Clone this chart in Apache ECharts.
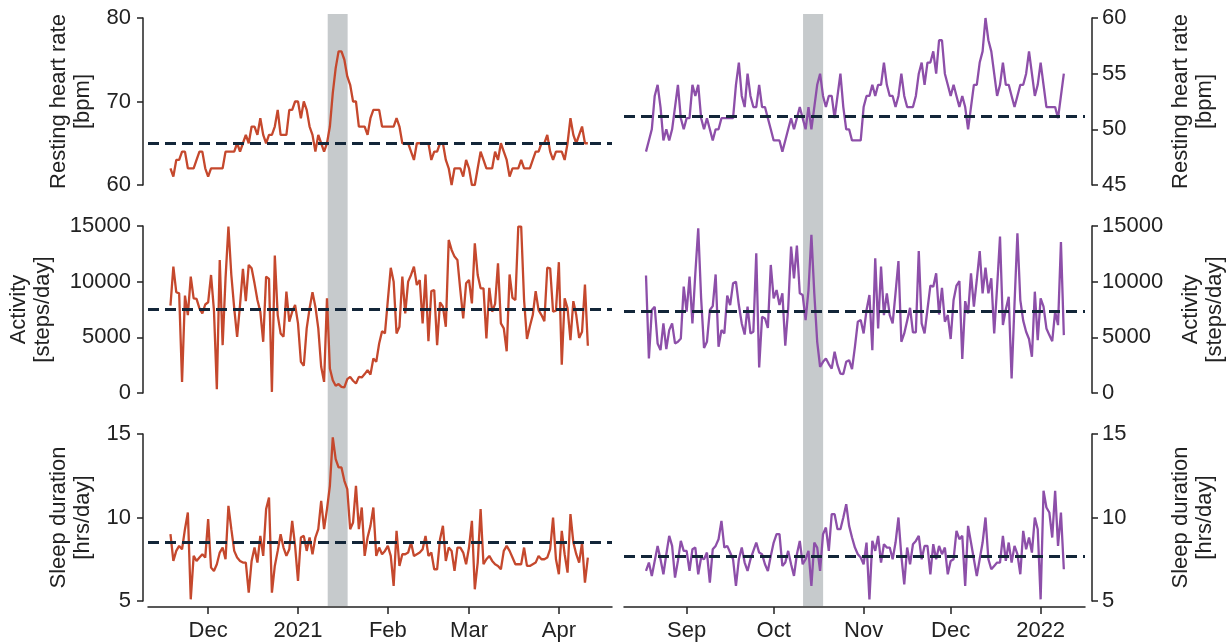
<!DOCTYPE html>
<html><head><meta charset="utf-8">
<script src="https://cdn.jsdelivr.net/npm/echarts@6/dist/echarts.min.js"></script>
<style>html,body{margin:0;padding:0;background:#fff}#c{width:1230px;height:643px}</style>
</head><body><div id="c"></div>
<script>
// ---------- DATA ----------
const leftStart = '2020-11-18';
const rightStart = '2021-08-18';
const leftRange = ['2020-11-10 06:00', '2021-04-19 08:00'];
const rightRange = ['2021-08-10 10:00', '2022-01-16 07:00'];
const leftBand = ['2021-01-11 06:00', '2021-01-18 03:00'];
const rightBand = ['2021-10-11 03:00', '2021-10-18 01:00'];
const leftTickDates = ['2020-12-01', '2021-01-01', '2021-02-01', '2021-03-01', '2021-04-01'];
const leftTickLabels = ['Dec', '2021', 'Feb', 'Mar', 'Apr'];
const rightTickDates = ['2021-09-01', '2021-10-01', '2021-11-01', '2021-12-01', '2022-01-01'];
const rightTickLabels = ['Sep', 'Oct', 'Nov', 'Dec', '2022'];
const metricNames = ['Resting heart rate\n[bpm]', 'Activity\n[steps/day]', 'Sleep duration\n[hrs/day]'];
const leftBaselines = [65, 7500, 8.5];
const rightBaselines = [51.15, 7300, 7.65];

const leftHR = [62,61,63,63,64,64,62,62,62,63, 64,64,62,61,62,62,62,62,62,64,
  64,64,64,65,64,65,66,65,67,67, 66,68,66,65,66,66,67,69,66,66,
  66,69,69,70,70,68,70,69,67,66, 64,66,65,64,65,67,71,74,76,76,
  75,73,72,70,70,67,67,67,66,68, 69,69,69,67,67,67,67,67,68,67,
  65,65,65,64,63,65,65,65,65,65, 63,64,64,65,65,63,62,60,62,62,
  62,61,63,62,60,60,62,64,63,62, 62,62,64,63,65,64,63,61,62,62,
  62,63,62,62,62,63,64,64,65,65, 66,64,63,64,64,64,63,65,68,66,
  65,66,67,65,65];
const rightHR = [48,49,50,53,54,52,49,50,49,50, 52,54,51,50,51,51,54,53,54,51,
  50,51,50,49,50,50,51,51,51,51, 51,54,56,53,52,55,53,52,52,54,
  52,52,51,50,49,49,49,48,49,50, 51,50,51,52,51,50,52,50,52,54,
  55,53,52,53,53,51,53,55,52,50, 50,49,49,49,49,52,53,53,54,53,
  54,54,56,54,53,53,52,53,55,53, 52,52,52,53,55,56,54,56,56,57,
  55,58,58,55,54,53,54,53,52,53, 52,50,52,54,54,56,57,60,58,57,
  55,53,54,56,54,54,53,52,53,54, 54,55,57,55,53,54,56,54,52,52,
  52,52,51,53,55];
const leftSteps = [7850,11350,9050,8950,1000,8750,7000,10450,8500,8450,
  7600,7150,7950,8150,10600,7450,350,11950,4300,10300,
  14950,10600,7600,5050,7900,11150,8250,11500,11200,9850,
  8350,7300,4600,10450,10250,100,12350,7000,5350,5050,
  9100,6400,7300,7900,6250,2800,2450,5800,7600,9050,
  7750,5800,2350,1000,8500,2200,1150,650,800,550,
  500,1250,1450,1100,850,1450,1400,1700,2050,1650,
  3100,2800,4450,5550,5350,8350,11250,10000,5350,5950,
  10450,7150,10000,10600,11350,9700,10150,6250,10650,4650,
  9150,9250,4300,8150,7750,5950,13750,12850,12250,11950,
  9250,6700,9850,10150,8050,13450,10600,9400,9400,4900,
  9450,7300,8000,11650,6250,5800,3750,10650,8550,8350,
  14950,14950,8350,4850,6000,7000,9150,7450,7000,6450,
  11250,11200,7300,7400,11750,2550,8500,7600,4750,8250,
  7000,4950,5500,9750,4250];
const rightSteps = [10550,3100,7450,7750,4450,3850,6250,3950,5650,6250,
  4450,4600,4900,9550,7300,10450,6250,10750,14800,8500,
  4050,4600,7450,7800,10650,4150,5650,5350,8750,7900,
  9850,10000,7900,6250,5250,7750,5350,5500,12550,2300,
  6850,6700,5850,11500,8500,9250,7900,8950,4250,7600,
  13150,10300,13250,8950,8800,6550,9250,14200,8950,4600,
  2350,2800,3100,2600,2200,3700,2500,1750,1700,2800,
  2950,2150,4150,6400,6550,5350,7450,8800,3850,12100,
  5800,11350,7000,8950,7000,6250,9000,11850,4600,5350,
  6500,7650,5450,5450,12750,6250,5350,7500,9650,9550,
  10750,7050,9450,6400,7000,4850,8350,9650,10050,3050,
  8250,7150,10750,7750,10150,12750,8950,11250,8950,10300,
  5350,9500,14050,6100,7500,8650,1300,8000,14350,8350,
  6500,5500,4850,3250,9100,4750,8500,7750,5800,5200,
  4650,7300,6100,13550,5200];
const leftSleep = [9.0,7.4,8.0,8.3,8.1,9.3,10.3,5.1,7.7,7.4,
  7.6,7.8,7.6,9.9,7.0,6.8,7.2,7.9,8.2,7.5,
  10.7,9.3,8.0,7.6,7.4,7.3,7.3,5.5,7.4,8.2,
  7.3,8.9,7.7,10.5,11.2,5.5,7.1,8.0,9.0,8.2,
  7.7,8.1,9.8,8.3,6.2,8.8,8.9,8.0,8.8,7.8,
  8.8,9.3,11.0,9.3,10.5,11.9,14.8,13.5,13.0,13.0,
  12.2,11.7,9.3,9.7,11.9,9.3,10.6,7.7,8.8,9.5,
  10.6,7.7,8.2,7.8,8.0,8.3,7.7,5.9,9.2,7.1,
  7.8,7.8,7.9,8.5,7.7,7.8,7.9,8.1,8.9,7.7,
  7.9,6.9,6.9,8.7,9.5,7.4,8.2,8.0,6.8,8.2,
  8.2,7.9,7.2,8.2,9.8,5.7,7.3,10.5,7.2,7.5,
  7.7,7.4,7.2,7.1,6.9,8.0,8.3,8.0,7.6,7.2,
  7.2,7.2,8.2,7.1,7.1,7.2,7.3,7.7,7.5,7.5,
  7.6,8.1,10.0,7.5,6.6,9.2,7.8,6.7,10.2,8.5,
  7.8,7.3,8.5,6.1,7.6];
const rightSleep = [6.8,7.3,6.5,7.4,8.3,7.5,6.6,7.8,8.9,8.3,
  6.4,7.4,8.6,8.0,8.0,6.8,8.1,8.2,6.6,7.6,
  7.5,7.9,6.1,8.1,8.3,8.7,9.8,8.2,8.3,7.9,
  7.5,5.9,7.5,8.2,7.3,6.8,7.5,8.0,8.5,7.9,
  7.8,7.2,6.8,7.7,8.5,9.0,9.0,7.1,7.3,8.0,
  7.2,6.5,7.8,8.6,7.2,7.5,8.0,5.9,8.5,8.2,
  6.8,9.0,9.4,8.0,10.2,10.2,9.3,9.3,10.0,10.8,
  9.5,8.8,8.2,7.8,7.6,7.2,8.5,5.1,8.6,8.0,
  8.9,7.3,8.4,8.2,8.2,7.5,8.5,10.0,7.7,6.0,
  8.2,7.2,8.4,8.6,8.9,7.5,8.3,8.3,6.6,8.4,
  7.5,8.3,7.8,8.2,6.6,7.4,7.5,9.2,8.7,8.9,
  5.9,9.5,8.5,7.5,6.5,7.5,8.5,10.0,7.5,6.9,
  7.1,7.3,7.3,8.9,7.4,8.5,7.3,8.3,7.8,6.6,
  9.2,8.1,8.8,7.9,10.0,9.3,5.1,11.6,10.6,10.3,
  8.8,11.6,8.3,10.3,6.9];

// ---------- BUILD ----------
function ts(s) {
  const [d, t] = s.split(' ');
  const [y, m, dd] = d.split('-').map(Number);
  const [hh, mm] = (t || '00:00').split(':').map(Number);
  return new Date(y, m - 1, dd, hh, mm).getTime();
}
function series(start, vals) {
  const [y, m, d] = start.split('-').map(Number);
  return vals.map((v, i) => [new Date(y, m - 1, d + i).getTime(), v]);
}
const FONT = '"Liberation Sans", Arial, sans-serif';
const TXT = '#222';
const red = '#c5482d', purple = '#8d4fa9';
const dashColor = '#132639';
const rowTops = [18, 226, 434], rowH = 167;
const cols = [
  {left: 148, width: 464, range: leftRange, band: leftBand, ticks: leftTickDates, labels: leftTickLabels,
   data: [leftHR, leftSteps, leftSleep], start: leftStart, base: leftBaselines, color: red,
   yr: [[60, 80, 10], [0, 15000, 5000], [5, 15, 5]], pos: 'left', offset: 5, gaps: [48, 88, 48], margin: 12},
  {left: 624, width: 461, range: rightRange, band: rightBand, ticks: rightTickDates, labels: rightTickLabels,
   data: [rightHR, rightSteps, rightSleep], start: rightStart, base: rightBaselines, color: purple,
   yr: [[45, 60, 5], [0, 15000, 5000], [5, 15, 5]], pos: 'right', offset: 7, gaps: [77, 87, 77], margin: 10}
];
const grid = [], xAxis = [], yAxis = [], ser = [];
cols.forEach((c, ci) => {
  const tickVals = c.ticks.map(ts);
  for (let r = 0; r < 3; r++) {
    const gi = grid.length;
    grid.push({left: c.left, width: c.width, top: rowTops[r], height: rowH});
    const bottom = r === 2;
    xAxis.push({
      gridIndex: gi, type: 'value', min: ts(c.range[0]), max: ts(c.range[1]),
      show: bottom, offset: 6,
      axisLine: {show: true, lineStyle: {color: TXT, width: 1.5}},
      axisTick: {show: true, length: 7, customValues: tickVals, lineStyle: {color: TXT, width: 1.5}},
      axisLabel: {show: true, customValues: tickVals, margin: 13, fontSize: 22, color: TXT, fontFamily: FONT,
        formatter: v => { const k = tickVals.indexOf(v); return k >= 0 ? c.labels[k] : ''; }},
      splitLine: {show: false}
    });
    const [mn, mx, iv] = c.yr[r];
    yAxis.push({
      gridIndex: gi, type: 'value', min: mn, max: mx, interval: iv, position: c.pos, offset: c.offset,
      axisLine: {show: true, lineStyle: {color: TXT, width: 1.5}},
      axisTick: {show: true, length: 6, lineStyle: {color: TXT, width: 1.5}},
      axisLabel: {fontSize: 22, color: TXT, fontFamily: FONT, margin: c.margin, formatter: v => String(v)},
      splitLine: {show: false},
      name: metricNames[r], nameLocation: 'middle', nameRotate: 90, nameGap: c.gaps[r],
      nameTextStyle: {fontSize: 22, lineHeight: 24, color: TXT, fontFamily: FONT}
    });
    ser.push({
      type: 'line', xAxisIndex: gi, yAxisIndex: gi, data: series(c.start, c.data[r]),
      showSymbol: false, z: 3, lineStyle: {color: c.color, width: 2.3}, itemStyle: {color: c.color},
      markLine: {silent: true, symbol: 'none', label: {show: false}, z: 4,
        lineStyle: {color: dashColor, width: 3, type: [11, 6]}, data: [{yAxis: c.base[r]}]}
    });
  }
});
cols.forEach((c) => {
  const gi = grid.length;
  grid.push({left: c.left, width: c.width, top: 14, height: 592});
  xAxis.push({gridIndex: gi, type: 'value', min: ts(c.range[0]), max: ts(c.range[1]), show: false});
  yAxis.push({gridIndex: gi, type: 'value', min: 0, max: 1, show: false});
  ser.push({type: 'line', xAxisIndex: gi, yAxisIndex: gi, data: [], z: 1, silent: true,
    markArea: {silent: true, itemStyle: {color: '#c6cacc'},
      data: [[{xAxis: ts(c.band[0])}, {xAxis: ts(c.band[1])}]]}});
});
const chart = echarts.init(document.getElementById('c'), null, {renderer: 'canvas'});
chart.setOption({animation: false, backgroundColor: '#fff', grid, xAxis, yAxis, series: ser});
</script></body></html>
